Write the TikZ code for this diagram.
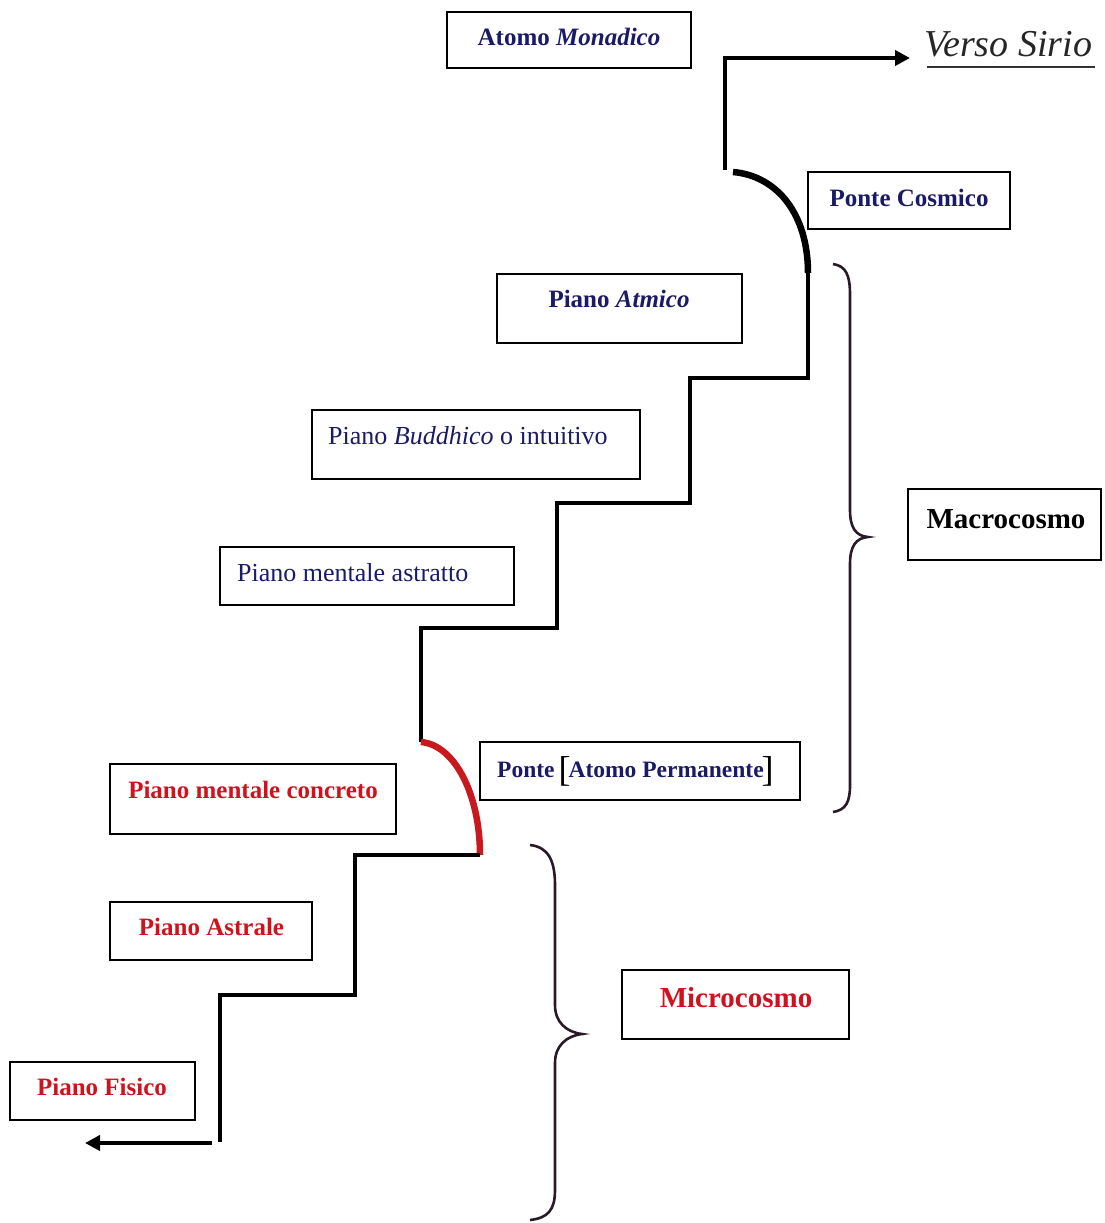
\documentclass[tikz,border=0pt]{standalone}
\usepackage{fontspec}
\setmainfont{Liberation Serif}
\usetikzlibrary{arrows.meta}
\definecolor{navy}{HTML}{1B1A66}
\definecolor{redtxt}{HTML}{D0121E}
\definecolor{redline}{HTML}{C81A1E}
\definecolor{bracecol}{HTML}{2A1A28}
\begin{document}
\begin{tikzpicture}[x=1pt,y=-1pt,
  box/.style={draw=black, line width=1.6pt, inner sep=0pt},
  lbl/.style={inner sep=0pt, anchor=base, font=\fontsize{26}{30}\selectfont},
  blbl/.style={inner sep=0pt, anchor=base, font=\fontsize{25}{29}\selectfont\bfseries},
  big/.style={inner sep=0pt, anchor=base, font=\fontsize{29}{32}\selectfont\bfseries},
  stair/.style={line width=4.5pt, line join=miter, draw=black},
  bridge/.style={line width=6.5pt},
  arr/.style={line width=4.5pt, -{Triangle[length=15pt,width=15pt]}},
  bracestyle/.style={draw=bracecol, line width=2.6pt}
]
\useasboundingbox (0,0) rectangle (1105,1223);

% boxes
\node[box, minimum width=244pt, minimum height=56pt] (monad) at (569,40) {};
\node[box, minimum width=202pt, minimum height=57pt] (cosmic) at (909,200.5) {};
\node[box, minimum width=245pt, minimum height=69pt] (atmic) at (619.5,308.5) {};
\node[box, minimum width=328pt, minimum height=69pt] (buddhi) at (476,444.5) {};
\node[box, minimum width=294pt, minimum height=58pt] (astratto) at (367,576) {};
\node[box, minimum width=320pt, minimum height=58pt] (ponteap) at (640,771) {};
\node[box, minimum width=286pt, minimum height=70pt] (concreto) at (253,799) {};
\node[box, minimum width=202pt, minimum height=58pt] (astrale) at (211,931) {};
\node[box, minimum width=185pt, minimum height=58pt] (fisico) at (102.5,1091) {};
\node[box, minimum width=193pt, minimum height=71pt] (macro) at (1004.5,524.5) {};
\node[box, minimum width=227pt, minimum height=69pt] (micro) at (735.5,1004.5) {};

% labels
\node[blbl, text=navy] (tmonad) at (569,46) {Atomo \textit{Monadico}};
\node[blbl, text=navy] (tcosmic) at (909,206) {Ponte Cosmico};
\node[blbl, text=navy] (tatmic) at (619,307) {Piano \textit{Atmico}};
\node[lbl, text=navy, anchor=base west] (tbuddhi) at (328,444) {Piano \textit{Buddhico} o intuitivo};
\node[lbl, text=navy, anchor=base west] (tastratto) at (237,581) {Piano mentale astratto};
\node[blbl, text=navy, anchor=base west, font=\fontsize{23.5}{28}\selectfont\bfseries] (tponteap) at (497,777) {Ponte\hspace{4pt}{\fontsize{36}{36}\selectfont\mdseries\color{black}\raisebox{-4pt}{[}}\hspace{-2pt}Atomo Permanente\hspace{-2pt}{\fontsize{36}{36}\selectfont\mdseries\color{black}\raisebox{-4pt}{]}}};
\node[blbl, text=redtxt] (tconcreto) at (253,798) {Piano mentale concreto};
\node[blbl, text=redtxt] (tastrale) at (211.5,935) {Piano Astrale};
\node[blbl, text=redtxt] (tfisico) at (102,1095) {Piano Fisico};
\node[big, text=black] (tmacro) at (1006,528) {Macrocosmo};
\node[big, text=redtxt] (tmicro) at (736,1007) {Microcosmo};

% handwritten note
\node[inner sep=0pt, anchor=base west, font=\fontsize{38}{40}\selectfont\itshape, text=black!85] (verso) at (924,57) {Verso Sirio};
\draw[line width=1.4pt, black!80] (verso.base west) ++(3,10) coordinate (u1) -- ++(168,0) coordinate (u2);

% staircase
\coordinate (top) at (725,170);
\coordinate (arrtip) at (910,58);
\draw[arr] (top) -- (725,58) -- (arrtip);
\coordinate (c1) at (733,172);
\coordinate (c2) at (808,273);
\draw[bridge] (c1) .. controls (778,176) and (808,215) .. (c2);
\draw[stair] (c2) -- (808,378) -- (690,378) -- (690,503) -- (557,503) -- (557,628) -- (421,628) -- (421,742) coordinate (r1);
\coordinate (r2) at (480,855);
\draw[bridge, draw=redline] (r1) .. controls (455,745) and (480,795) .. (r2);
\draw[stair] (r2) -- (355,855) -- (355,995) -- (220,995) -- (220,1142);
\coordinate (a1) at (212,1143);
\coordinate (a2) at (85,1143);
\draw[arr] (a1) -- (a2);

% braces
\draw[bracestyle] (833,264) .. controls (846,266) and (850,275) .. (850,295)
  -- (850,510) .. controls (850,528) and (856,536) .. (868,537)
  .. controls (856,538) and (850,546) .. (850,564)
  -- (850,785) .. controls (850,802) and (846,810) .. (833,812);
\draw[bracestyle] (530,845) .. controls (548,847) and (555,860) .. (555,885)
  -- (555,1005) .. controls (555,1022) and (566,1032) .. (582,1034)
  .. controls (566,1036) and (555,1046) .. (555,1063)
  -- (555,1190) .. controls (555,1210) and (548,1218) .. (530,1220);
\end{tikzpicture}
\end{document}
